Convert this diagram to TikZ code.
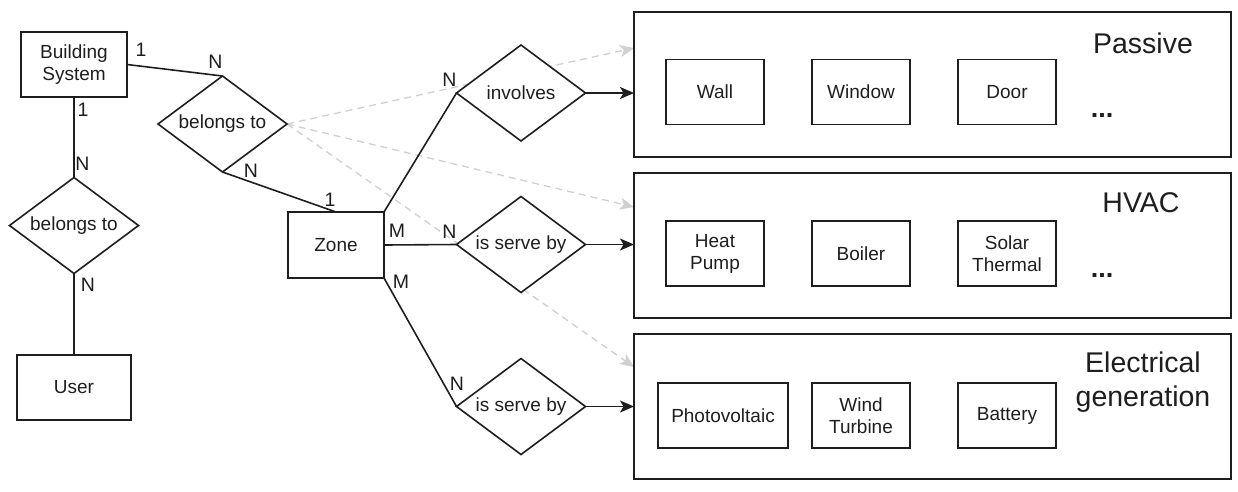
\documentclass[tikz,border=0pt]{standalone}
\usepackage{fontspec}
\setmainfont{Liberation Sans}
\usetikzlibrary{shapes.geometric,arrows.meta,backgrounds}
\definecolor{ink}{RGB}{30,30,30}
\definecolor{ghost}{RGB}{208,208,208}

\begin{document}
\begin{tikzpicture}[x=1pt,y=-1pt,
  every node/.style={font=\fontsize{19}{22}\selectfont, text=ink},
  entity/.style={draw=ink, line width=1.6pt, fill=white, inner sep=0pt, outer sep=0pt,
                 align=center, minimum height=65pt},
  relation/.style={draw=ink, line width=1.6pt, fill=white, shape=diamond, inner sep=0pt,
                   outer sep=0pt, aspect=1.33, minimum width=129pt, minimum height=96pt},
  group/.style={draw=ink, line width=1.6pt, inner sep=0pt, outer sep=0pt,
                minimum width=597pt, minimum height=145pt},
  item/.style={draw=ink, line width=1.6pt, fill=white, inner sep=0pt, outer sep=0pt,
               align=center, minimum width=98pt, minimum height=65pt},
  title/.style={font=\fontsize{28.5}{34}\selectfont, align=center},
  more/.style={font=\fontsize{27}{30}\selectfont\bfseries, inner sep=0pt},
  card/.style={font=\fontsize{19.5}{22}\selectfont, inner sep=0pt},
  link/.style={draw=ink, line width=1.6pt},
  flow/.style={draw=ink, line width=1.6pt, -{Stealth[length=14pt,width=12pt,inset=3.5pt]}},
  hint/.style={draw=ghost, line width=1.3pt, dash pattern=on 7pt off 5pt,
               -{Stealth[length=14pt,width=12pt,inset=3.5pt]}}]

\useasboundingbox (0,0) rectangle (1238,491);

% entities
\node[entity, minimum width=106pt] (bsys) at (74,64.5) {Building\\System};
\node[entity, minimum width=96pt, minimum height=66pt] (zone) at (336,245) {Zone};
\node[entity, minimum width=114pt] (user) at (74,387.5) {User};

% relationships
\node[relation] (belongA) at (222.5,124) {belongs to};
\node[relation] (belongB) at (74,225.5) {belongs to};
\node[relation] (involves) at (521,93) {involves};
\node[relation] (serveA) at (521,244.5) {is serve by};
\node[relation] (serveB) at (521,406.5) {is serve by};

% component groups
\node[group] (passive) at (932.5,84.5) {};
\node[group] (hvac) at (932.5,245.5) {};
\node[group] (elec) at (932.5,406.5) {};

\node[title] at (1143,43) {Passive};
\node[title] at (1141,203) {HVAC};
\node[title] at (1143,382) {Electrical\\generation};

\node[item] (wall) at (715,92) {Wall};
\node[item] (window) at (861,92) {Window};
\node[item] (door) at (1007,92) {Door};
\node[more] at (1102,115) {...};

\node[item] (heat) at (715,253.5) {Heat\\Pump};
\node[item] (boiler) at (861,253.5) {Boiler};
\node[item] (solar) at (1007,253.5) {Solar\\Thermal};
\node[more] at (1102,275) {...};

\node[item, minimum width=130pt] (pv) at (723,415.5) {Photovoltaic};
\node[item] (wind) at (861,415.5) {Wind\\Turbine};
\node[item] (battery) at (1007,415.5) {Battery};

% connection points on the group borders
\coordinate (hintP) at (634,48);
\coordinate (hintH) at (634,207);
\coordinate (hintE) at (634,367);

% relationship lines
\draw[link] (bsys.east) -- (belongA.north);
\draw[link] (belongA.south) -- (zone.north);
\draw[link] (bsys.south) -- (belongB.north);
\draw[link] (belongB.south) -- (user.north);
\draw[link] (zone.north east) -- (involves.west);
\draw[link] (zone.east) -- (serveA.west);
\draw[link] (zone.south east) -- (serveB.west);

\draw[flow] (involves.east) -- (involves.east -| passive.west);
\draw[flow] (serveA.east) -- (serveA.east -| hvac.west);
\draw[flow] (serveB.east) -- (serveB.east -| elec.west);

% dashed hints behind the diamonds
\begin{pgfonlayer}{background}
\draw[hint] (belongA.east) -- (hintP);
\draw[hint] (belongA.east) -- (hintH);
\draw[hint] (belongA.east) -- (hintE);
\end{pgfonlayer}

% cardinalities
\node[card] at (141,50) {1};
\node[card] at (215.5,62) {N};
\node[card] at (83,110) {1};
\node[card] at (82.5,164) {N};
\node[card] at (88,285) {N};
\node[card] at (251,171) {N};
\node[card] at (330,200) {1};
\node[card] at (397,231) {M};
\node[card] at (401,282) {M};
\node[card] at (449.5,79.5) {N};
\node[card] at (449.5,232) {N};
\node[card] at (457,384) {N};
\end{tikzpicture}
\end{document}
